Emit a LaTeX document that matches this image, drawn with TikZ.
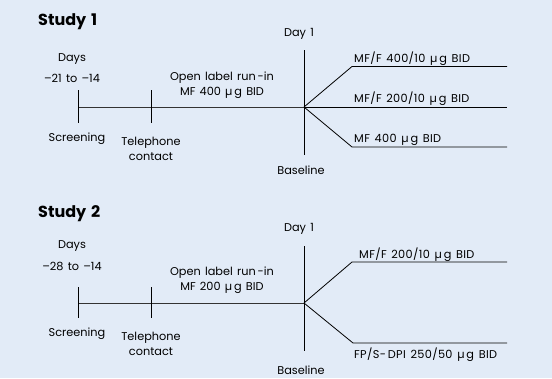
\documentclass[tikz,border=0pt]{standalone}
\usepackage{fontspec}
\setmainfont{Poppins}[WordSpace=1.4]
\newfontfamily\armfont{Poppins}[WordSpace=1.4,LetterSpace=3]
\definecolor{bg}{HTML}{E2EBF7}
\definecolor{ln}{HTML}{333333}
\begin{document}
\begin{tikzpicture}[x=1pt,y=-1pt,
  lbl/.style={font=\fontsize{11.3}{12}\selectfont, inner sep=0pt, text=black},
  arml/.style={font=\armfont\fontsize{11.3}{12}\selectfont, inner sep=0pt, text=black},
  ttl/.style={font=\fontsize{16}{18}\selectfont\bfseries, inner sep=0pt},
  tl/.style={draw=ln, line width=0.9pt},
  arm/.style={draw=black, line width=0.8pt}]
\fill[bg] (0,0) rectangle (552,378);
\useasboundingbox (0,0) rectangle (552,378);
\newcommand{\ug}{ µ\,g}
% ---------- Study 1
\node[ttl, anchor=west] (t1) at (38,22) {Study 1};
\node[lbl] (d1) at (72,59) {Days};
\node[lbl] (r1) at (72,78) {–21 to –14};
\coordinate (s1) at (78,107);
\coordinate (c1) at (151,107);
\coordinate (b1) at (304,107);
\coordinate (s1t) at (78,90); \coordinate (s1b) at (78,123);
\coordinate (c1t) at (151,90); \coordinate (c1b) at (151,123);
\coordinate (b1t) at (304,50); \coordinate (b1b) at (304,155);
\draw[tl] (s1) -- (b1);
\draw[arm] (s1t) -- (s1b);
\draw[arm] (c1t) -- (c1b);
\draw[arm] (b1t) -- (b1b);
\node[lbl] (sc1) at (77,139) {Screening};
\node[lbl, align=center] (tc1) at (151,148.5) {Telephone\\[3pt]contact};
\node[lbl, align=center] (ol1) at (222,85) {Open label run\,-in\\[3pt]MF 400\ug{} BID};
\node[lbl] (dy1) at (299,34) {Day 1};
\node[lbl] (bl1) at (301,170) {Baseline};
\coordinate (u1) at (352,66.5); \coordinate (u1e) at (507,66.5);
\coordinate (m1e) at (507,107);
\coordinate (l1) at (352,147); \coordinate (l1e) at (507,147);
\draw[arm] (b1) -- (u1) -- (u1e);
\draw[arm] (b1) -- (m1e);
\draw[arm] (b1) -- (l1) -- (l1e);
\node[arml, anchor=base west] (a1) at (354,62) {MF/F 400/10\ug{} BID};
\node[arml, anchor=base west] (a2) at (354,102.5) {MF/F 200/10\ug{} BID};
\node[arml, anchor=base west] (a3) at (354,142.5) {MF 400\ug{} BID};
% ---------- Study 2
\node[ttl, anchor=west] (t2) at (38,214) {Study 2};
\node[lbl] (d2) at (72,246) {Days};
\node[lbl] (r2) at (72,266) {–28 to –14};
\coordinate (s2) at (78,303);
\coordinate (c2) at (151,303);
\coordinate (b2) at (304,303);
\coordinate (s2t) at (78,287); \coordinate (s2b) at (78,318);
\coordinate (c2t) at (151,287); \coordinate (c2b) at (151,318);
\coordinate (b2t) at (304,246); \coordinate (b2b) at (304,351);
\draw[tl] (s2) -- (b2);
\draw[arm] (s2t) -- (s2b);
\draw[arm] (c2t) -- (c2b);
\draw[arm] (b2t) -- (b2b);
\node[lbl] (sc2) at (77,334) {Screening};
\node[lbl, align=center] (tc2) at (151,344) {Telephone\\[3pt]contact};
\node[lbl, align=center] (ol2) at (222,280) {Open label run\,-in\\[3pt]MF 200\ug{} BID};
\node[lbl] (dy2) at (299,229) {Day 1};
\node[lbl] (bl2) at (301,370) {Baseline};
\coordinate (u2) at (352,262); \coordinate (u2e) at (507,262);
\coordinate (l2) at (353,343); \coordinate (l2e) at (507,343);
\draw[arm] (b2) -- (u2) -- (u2e);
\draw[arm] (b2) -- (l2) -- (l2e);
\node[arml, anchor=base west] (a4) at (359,258) {MF/F 200/10\ug{} BID};
\node[arml, anchor=base west] (a5) at (354,358) {FP/S-\,DPI 250/50\ug{} BID};
\end{tikzpicture}
\end{document}
